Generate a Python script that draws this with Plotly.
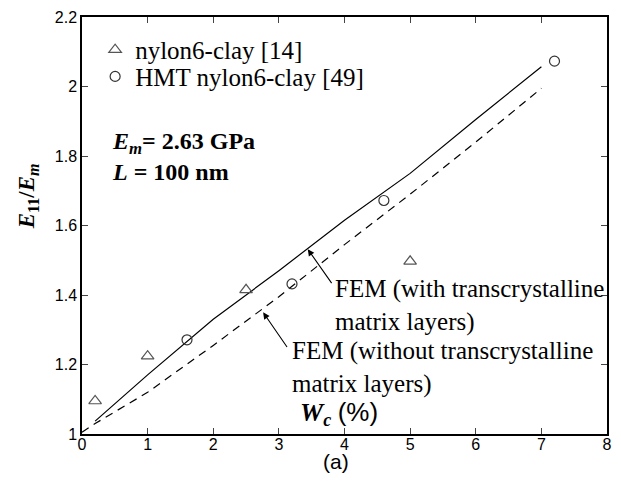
import plotly.graph_objects as go

# Experimental data
tri_x = [0.2, 1.0, 2.5, 5.0]
tri_y = [1.095, 1.224, 1.415, 1.497]
circ_x = [1.6, 3.2, 4.6, 7.2]
circ_y = [1.271, 1.432, 1.672, 2.073]

# FEM curves
fem_with_x = [0.2, 1.0, 2.0, 3.0, 4.0, 5.0, 6.0, 7.0]
fem_with_y = [1.037, 1.17, 1.33, 1.47, 1.615, 1.75, 1.905, 2.057]
fem_wo_x = [0.0, 0.2, 1.0, 2.0, 3.0, 4.0, 5.0, 6.0, 7.0]
fem_wo_y = [1.005, 1.03, 1.12, 1.255, 1.395, 1.545, 1.69, 1.84, 1.995]

x_ticks = [0, 1, 2, 3, 4, 5, 6, 7, 8]
y_ticks = [1, 1.2, 1.4, 1.6, 1.8, 2, 2.2]
y_tick_labels = ["1", "1.2", "1.4", "1.6", "1.8", "2", "2.2"]

SERIF = "Liberation Serif, Times New Roman, serif"
SANS = "Liberation Sans, Arial, sans-serif"

fig = go.Figure()
fig.add_trace(go.Scatter(x=fem_with_x, y=fem_with_y, mode="lines",
                         line=dict(color="black", width=1.2), showlegend=False))
fig.add_trace(go.Scatter(x=fem_wo_x, y=fem_wo_y, mode="lines",
                         line=dict(color="black", width=1.2, dash="8px,6px"), showlegend=False))
fig.add_trace(go.Scatter(x=tri_x, y=tri_y, mode="markers", name="nylon6-clay [14]",
                         legend="legend",
                         marker=dict(symbol="triangle-up-open", size=11, color="#555555",
                                     line=dict(width=1.2, color="#555555"))))
fig.add_trace(go.Scatter(x=circ_x, y=circ_y, mode="markers", name="HMT nylon6-clay [49]",
                         legend="legend2",
                         marker=dict(symbol="circle-open", size=10, color="#333333",
                                     line=dict(width=1.2, color="#333333"))))

annotations = [
    # arrows
    dict(x=3.44, y=1.532, ax=3.82, ay=1.43, xref="x", yref="y", axref="x", ayref="y",
         text="", showarrow=True, arrowhead=2, arrowsize=1.2, arrowwidth=1.1, arrowcolor="black"),
    dict(x=2.76, y=1.350, ax=3.14, ay=1.246, xref="x", yref="y", axref="x", ayref="y",
         text="", showarrow=True, arrowhead=2, arrowsize=1.2, arrowwidth=1.1, arrowcolor="black"),
    # arrow texts
    dict(x=3.83, y=1.37, xref="x", yref="y", xanchor="left", yanchor="middle", align="left",
         text="FEM (with transcrystalline<br>matrix layers)", showarrow=False,
         font=dict(family=SERIF, size=25, color="black")),
    dict(x=3.17, y=1.19, xref="x", yref="y", xanchor="left", yanchor="middle", align="left",
         text="FEM (without transcrystalline<br>matrix layers)", showarrow=False,
         font=dict(family=SERIF, size=25, color="black")),
    # parameters
    dict(x=0.053, y=0.697, xref="paper", yref="paper", xanchor="left", yanchor="middle",
         text="<b><i>E<sub>m</sub></i>= 2.63 GPa</b>", showarrow=False,
         font=dict(family=SERIF, size=24, color="black")),
    dict(x=0.053, y=0.628, xref="paper", yref="paper", xanchor="left", yanchor="middle",
         text="<b><i>L</i> = 100 nm</b>", showarrow=False,
         font=dict(family=SERIF, size=24, color="black")),
    # y axis title
    dict(x=0, y=0.57, xref="paper", yref="paper", xshift=-54, textangle=-90,
         xanchor="center", yanchor="middle",
         text="<b><i>E</i><sub>11</sub>/<i>E<sub>m</sub></i></b>", showarrow=False,
         font=dict(family=SERIF, size=23, color="black")),
    # x axis title
    dict(x=0.49, y=0.05, xref="paper", yref="paper", xanchor="center", yanchor="middle",
         text="<b><i>W<sub>c</sub></i></b> <span style='font-family:Liberation Sans'>(%)</span>",
         showarrow=False, font=dict(family=SERIF, size=26, color="black")),
    # panel label
    dict(x=0.483, y=-0.065, xref="paper", yref="paper", xanchor="center", yanchor="middle",
         text="(a)", showarrow=False, font=dict(family=SANS, size=21, color="black")),
]

legend_common = dict(xanchor="left", yanchor="middle",
                     font=dict(family=SERIF, size=25, color="black"),
                     bgcolor="rgba(0,0,0,0)", itemwidth=30)

fig.update_layout(
    width=621, height=484,
    margin=dict(l=82, r=9, t=15, b=50),
    paper_bgcolor="white", plot_bgcolor="white",
    showlegend=True,
    legend=dict(x=0.025, y=0.921, **legend_common),
    legend2=dict(x=0.025, y=0.857, **legend_common),
    annotations=annotations,
    xaxis=dict(range=[0, 8], tickvals=x_ticks, ticks="inside", ticklen=6, tickwidth=1,
               showline=True, linecolor="black", linewidth=1.5, mirror="ticks",
               showgrid=False, zeroline=False, ticklabelstandoff=-5,
               tickfont=dict(family=SANS, size=16, color="black")),
    yaxis=dict(range=[1, 2.2], tickvals=y_ticks, ticktext=y_tick_labels, ticks="inside",
               ticklen=6, tickwidth=1,
               showline=True, linecolor="black", linewidth=1.5, mirror="ticks",
               showgrid=False, zeroline=False,
               tickfont=dict(family=SANS, size=16, color="black")),
)

fig.write_html("out.html")
